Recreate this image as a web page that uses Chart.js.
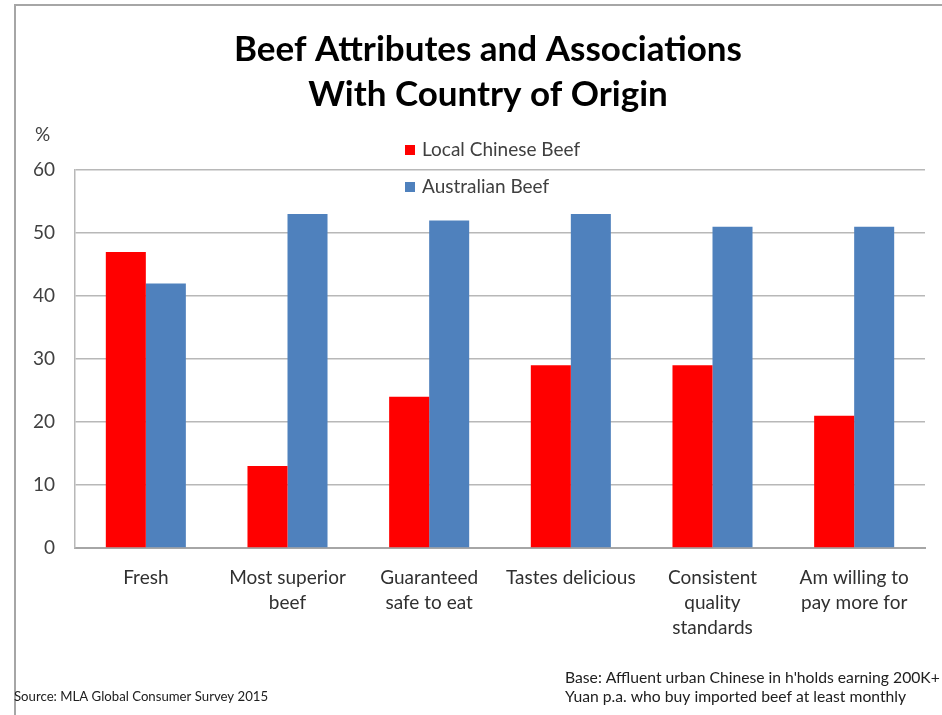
<!DOCTYPE html>
<html><head><meta charset="utf-8">
<script src="https://cdn.jsdelivr.net/npm/chart.js@4/dist/chart.umd.min.js"></script>
<style>html,body{margin:0;padding:0;background:#fff}#wrap{width:942px;height:715px;position:relative}</style>
</head><body><div id="wrap"><canvas id="c" width="942" height="715"></canvas></div>
<script>
const categories = [["Fresh"],["Most superior","beef"],["Guaranteed","safe to eat"],["Tastes delicious"],["Consistent","quality","standards"],["Am willing to","pay more for"]];
const localChinese = [47, 13, 24, 29, 29, 21];
const australian = [42, 53, 52, 53, 51, 51];
const yTicks = [0, 10, 20, 30, 40, 50, 60];
const titleLines = ["Beef Attributes and Associations", "With Country of Origin"];
const seriesNames = ["Local Chinese Beef", "Australian Beef"];
const seriesColors = ["#FF0000", "#4F81BD"];
const sourceNote = "Source: MLA Global Consumer Survey 2015";
const baseNote = ["Base: Affluent urban Chinese in h'holds earning 200K+", "Yuan p.a. who buy imported beef at least monthly"];

const FONT = "Lato, 'Open Sans', sans-serif";

const decor = {
  id: 'decor',
  beforeDraw(chart) {
    const ctx = chart.ctx;
    ctx.save();
    ctx.fillStyle = '#fff';
    ctx.fillRect(0, 0, chart.width, chart.height);
    ctx.strokeStyle = '#a6a6a6';
    ctx.lineWidth = 2;
    ctx.beginPath();
    ctx.moveTo(15, 715); ctx.lineTo(15, 5); ctx.lineTo(942, 5);
    ctx.stroke();
    ctx.restore();
  },
  afterDraw(chart) {
    const ctx = chart.ctx;
    ctx.save();
    ctx.fillStyle = '#000';
    ctx.textAlign = 'center';
    ctx.textBaseline = 'middle';
    ctx.font = "bold 35px " + FONT;
    ctx.fillText(titleLines[0], 488, 50);
    ctx.fillText(titleLines[1], 488, 95);
    ctx.fillStyle = '#404040';
    ctx.font = "19px " + FONT;
    ctx.textAlign = 'left';
    ctx.fillText('%', 35, 135);
    // legend
    const ly = [150, 187];
    chart.data.datasets.forEach((ds, i) => {
      ctx.fillStyle = ds.backgroundColor;
      ctx.fillRect(405, ly[i] - 5, 10, 10);
      ctx.fillStyle = '#404040';
      ctx.font = "19px " + FONT;
      ctx.fillText(ds.label, 422, ly[i]);
    });
    // notes
    ctx.fillStyle = '#202020';
    ctx.font = "13.2px " + FONT;
    ctx.fillText(sourceNote, 14, 697);
    ctx.font = "15.7px " + FONT;
    ctx.fillText(baseNote[0], 565, 678);
    ctx.fillText(baseNote[1], 565, 697);
    ctx.restore();
  }
};

new Chart(document.getElementById('c'), {
  type: 'bar',
  data: {
    labels: categories,
    datasets: [
      { label: seriesNames[0], data: localChinese, backgroundColor: seriesColors[0] },
      { label: seriesNames[1], data: australian, backgroundColor: seriesColors[1] }
    ]
  },
  options: {
    responsive: false,
    animation: false,
    devicePixelRatio: 1,
    layout: { padding: { left: 15, right: 17, top: 170, bottom: 0 } },
    plugins: { legend: { display: false }, title: { display: false }, tooltip: { enabled: false } },
    datasets: { bar: { categoryPercentage: 0.565, barPercentage: 1.0 } },
    scales: {
      x: {
        grid: { display: false, drawTicks: false },
        border: { display: true, color: '#a6a6a6', width: 2 },
        ticks: { color: '#303030', font: { family: FONT, size: 19, lineHeight: 1.3 }, padding: 18, maxRotation: 0, autoSkip: false },
        afterFit(scale) { scale.height = 167; }
      },
      y: {
        min: 0, max: 60,
        afterBuildTicks(scale) { scale.ticks = yTicks.map(v => ({ value: v })); },
        grid: { color: '#b8b8b8', lineWidth: 1.5, drawTicks: false },
        border: { display: true, color: '#b8b8b8', width: 1.5 },
        ticks: { color: '#404040', font: { family: FONT, size: 19 }, padding: 20 },
        afterFit(scale) { scale.width = 60; }
      }
    }
  },
  plugins: [decor]
});
</script>
</body></html>
